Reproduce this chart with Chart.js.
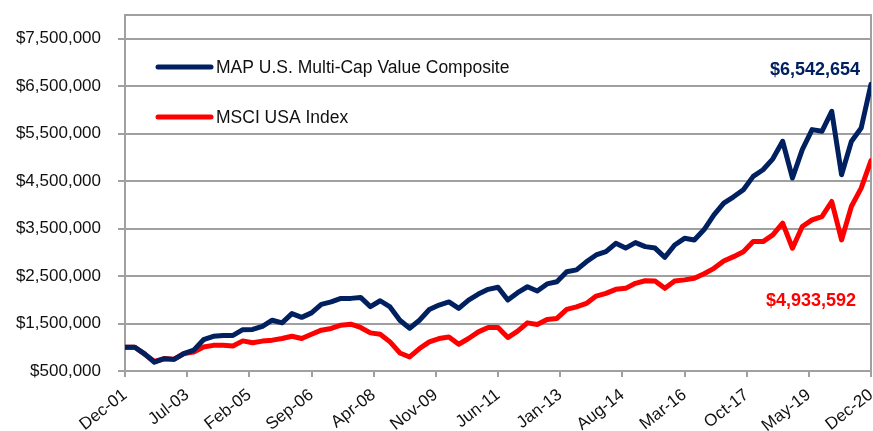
<!DOCTYPE html>
<html>
<head>
<meta charset="utf-8">
<script src="https://cdn.jsdelivr.net/npm/chart.js@4.4.1/dist/chart.umd.min.js"></script>
<style>
  html, body { margin: 0; padding: 0; background: #ffffff; }
  #c { display: block; }
</style>
</head>
<body>
<canvas id="c" width="873" height="431"></canvas>
<script>
// ---- Data ----
const tickLabels = ['Dec-01','Jul-03','Feb-05','Sep-06','Apr-08','Nov-09','Jun-11','Jan-13','Aug-14','Mar-16','Oct-17','May-19','Dec-20'];
const monthsPerTick = 19;      // spacing of the date ticks, in months
const monthsPerPoint = 3;      // quarterly observations
const yTickValues = [500000,1500000,2500000,3500000,4500000,5500000,6500000,7500000];
const seriesNames = ['MAP U.S. Multi-Cap Value Composite', 'MSCI USA Index'];
const endLabels = ['$6,542,654', '$4,933,592'];

const mapValues = [
  1000000,1000000,860000,685000,760000,745000,865000,940000,1160000,1230000,
  1250000,1250000,1370000,1375000,1440000,1570000,1515000,1710000,1630000,1725000,
  1905000,1955000,2030000,2030000,2050000,1855000,1980000,1850000,1570000,1400000,
  1570000,1795000,1890000,1955000,1820000,1995000,2120000,2220000,2265000,1995000,
  2150000,2275000,2185000,2335000,2380000,2590000,2630000,2800000,2945000,3015000,
  3190000,3090000,3205000,3120000,3090000,2895000,3155000,3295000,3260000,3480000,
  3790000,4035000,4170000,4320000,4600000,4740000,4970000,5340000,4565000,5165000,
  5585000,5550000,5970000,4635000,5335000,5620000,6542654
];
const msciValues = [
  1000000,1000000,855000,700000,762000,750000,868000,900000,1005000,1040000,
  1043000,1025000,1134000,1095000,1130000,1150000,1185000,1233000,1185000,1275000,
  1360000,1396000,1466000,1487000,1417000,1303000,1275000,1113000,880000,796000,
  973000,1113000,1184000,1218000,1064000,1184000,1324000,1417000,1417000,1205000,
  1339000,1514000,1480000,1586000,1607000,1797000,1852000,1924000,2078000,2135000,
  2220000,2241000,2347000,2402000,2395000,2241000,2395000,2420000,2452000,2550000,
  2663000,2818000,2909000,3014000,3226000,3226000,3367000,3614000,3086000,3543000,
  3684000,3754000,4071000,3261000,3965000,4354000,4933592
];

// ---- Styles ----
const NAVY = '#002060';
const RED = '#FF0000';
const GRID = '#a0a0a0';
const FONT = '"Liberation Sans", Arial, Helvetica, sans-serif';

const toPoints = arr => arr.map((v, i) => ({ x: i * monthsPerPoint, y: v }));

const overlayPlugin = {
  id: 'overlay',
  beforeDatasetsDraw(chart) {
    const { ctx, chartArea: a } = chart;
    ctx.save();
    ctx.strokeStyle = GRID;
    ctx.lineWidth = 2;
    ctx.beginPath();
    ctx.moveTo(a.left, a.top);
    ctx.lineTo(a.right, a.top);
    ctx.lineTo(a.right, a.bottom);
    ctx.stroke();
    ctx.restore();
  },
  afterDatasetsDraw(chart) {
    const { ctx, chartArea: a } = chart;
    ctx.save();
    // legend inside plot area
    const items = chart.data.datasets;
    const legendY = [a.top + 52, a.top + 102];
    items.forEach((ds, i) => {
      const y = legendY[i];
      ctx.strokeStyle = ds.borderColor;
      ctx.lineWidth = 5;
      ctx.lineCap = 'round';
      ctx.beginPath();
      ctx.moveTo(a.left + 33, y);
      ctx.lineTo(a.left + 86, y);
      ctx.stroke();
      ctx.fillStyle = '#111111';
      ctx.font = '17.5px ' + FONT;
      ctx.textAlign = 'left';
      ctx.textBaseline = 'middle';
      ctx.fillText(ds.label, a.left + 91, y + 1);
    });
    // end value labels
    const m0 = chart.getDatasetMeta(0).data;
    const m1 = chart.getDatasetMeta(1).data;
    const p0 = m0[m0.length - 1];
    const p1 = m1[m1.length - 1];
    ctx.font = 'bold 18px ' + FONT;
    ctx.textAlign = 'right';
    ctx.textBaseline = 'middle';
    ctx.fillStyle = NAVY;
    ctx.fillText(endLabels[0], p0.x - 11, p0.y - 14);
    ctx.fillStyle = RED;
    ctx.fillText(endLabels[1], p1.x - 15, p1.y + 140);
    ctx.restore();
  }
};

new Chart(document.getElementById('c'), {
  type: 'line',
  data: {
    datasets: [
      { label: seriesNames[0], data: toPoints(mapValues), borderColor: NAVY, backgroundColor: NAVY,
        borderWidth: 5, pointRadius: 0, tension: 0, borderJoinStyle: 'round', borderCapStyle: 'round' },
      { label: seriesNames[1], data: toPoints(msciValues), borderColor: RED, backgroundColor: RED,
        borderWidth: 5, pointRadius: 0, tension: 0, borderJoinStyle: 'round', borderCapStyle: 'round' }
    ]
  },
  options: {
    responsive: false,
    animation: false,
    devicePixelRatio: 1,
    layout: { padding: { top: 15, right: 2, left: 0, bottom: 0 } },
    plugins: { legend: { display: false }, tooltip: { enabled: false }, title: { display: false } },
    scales: {
      x: {
        type: 'linear',
        min: 0,
        max: (tickLabels.length - 1) * monthsPerTick,
        afterBuildTicks: s => { s.ticks = tickLabels.map((_, i) => ({ value: i * monthsPerTick })); },
        afterFit: s => { s.height = 60; s.paddingLeft = 0; s.paddingRight = 0; },
        grid: { drawOnChartArea: false, drawTicks: true, tickLength: 6, color: GRID, lineWidth: 2 },
        border: { display: true, color: GRID, width: 2 },
        ticks: {
          autoSkip: false,
          maxRotation: 38, minRotation: 38,
          padding: 8,
          color: '#111111',
          font: { family: FONT, size: 17 },
          callback: (v) => tickLabels[Math.round(v / monthsPerTick)]
        }
      },
      y: {
        type: 'linear',
        min: 500000,
        max: 8000000,
        afterBuildTicks: s => { s.ticks = yTickValues.map(v => ({ value: v })); },
        afterFit: s => { s.width = 125; s.paddingTop = 0; s.paddingBottom = 0; },
        grid: { color: GRID, lineWidth: 2, drawTicks: true, tickLength: 7 },
        border: { display: true, color: GRID, width: 2 },
        ticks: {
          padding: 17,
          color: '#111111',
          font: { family: FONT, size: 17 },
          callback: v => '$' + Number(v).toLocaleString('en-US')
        }
      }
    }
  },
  plugins: [overlayPlugin]
});
</script>
</body>
</html>
